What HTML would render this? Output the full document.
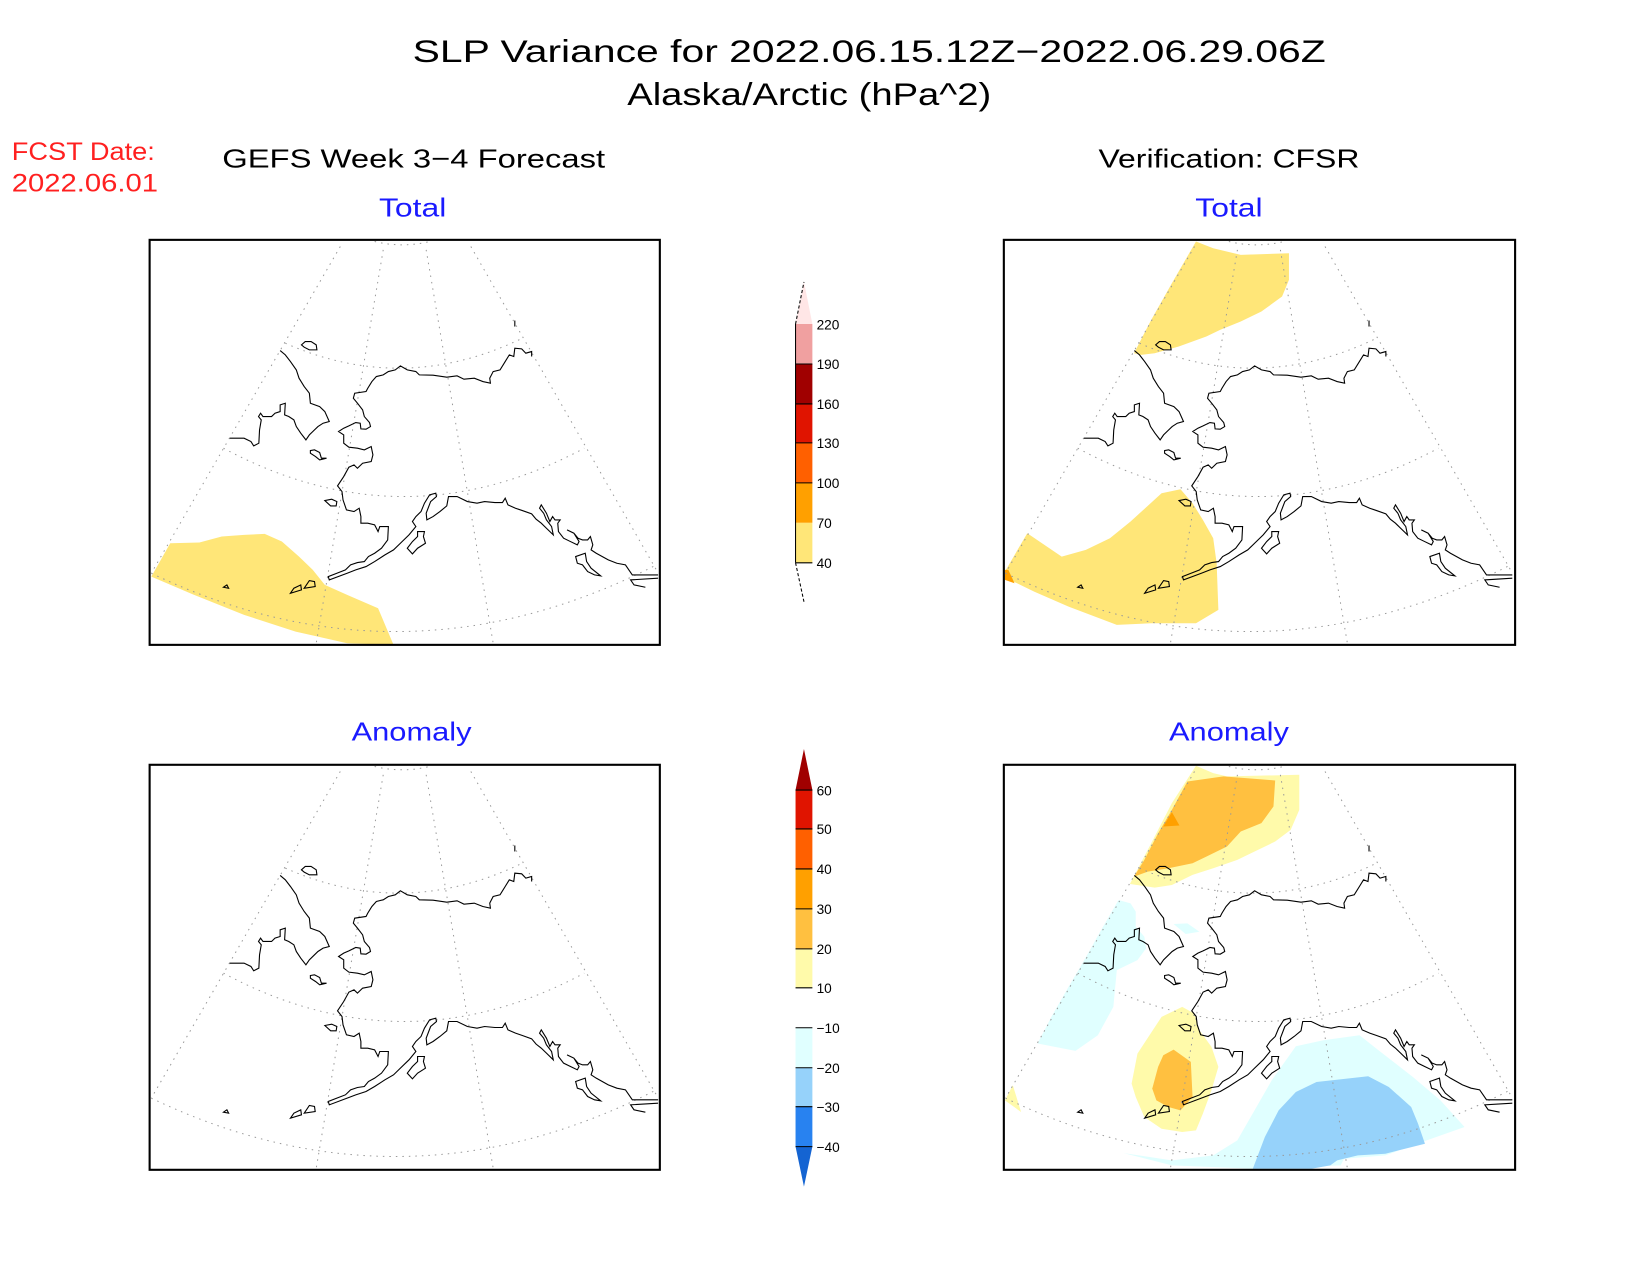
<!DOCTYPE html>
<html><head><meta charset="utf-8"><style>html,body{margin:0;padding:0;background:#fff}svg{display:block}</style></head>
<body>
<svg width="1650" height="1275" viewBox="0 0 1568 1212" xmlns="http://www.w3.org/2000/svg" font-family="Liberation Sans, sans-serif">
<defs>
<g id="base">
 <g fill="none" stroke="#999" stroke-width="1" stroke-dasharray="1.5,5" vector-effect="non-scaling-stroke">
  <path vector-effect="non-scaling-stroke" d="M680,35 Q760,55 840,35"/>
  <path vector-effect="non-scaling-stroke" d="M420,340 Q765,497 1110,325"/>
  <path vector-effect="non-scaling-stroke" d="M240,655 Q765,945 1290,655"/>
  <path vector-effect="non-scaling-stroke" d="M30,1030 Q765,1392 1500,1005"/>
  <path vector-effect="non-scaling-stroke" d="M580,50 L30,1030"/>
  <path vector-effect="non-scaling-stroke" d="M705,60 L510,1240"/>
  <path vector-effect="non-scaling-stroke" d="M830,60 L1025,1240"/>
  <path vector-effect="non-scaling-stroke" d="M960,50 L1500,1020"/>
 </g>
 <g fill="none" stroke="#000" stroke-width="1.1">
  <path vector-effect="non-scaling-stroke" d="M405,362 L420,375 L435,395 L452,420 L460,445 L475,470 L490,490 L493,520 L520,530 L535,545 L548,575 L530,580 L515,590 L505,600 L490,615 L480,630 L465,610 L452,590 L445,570 L430,560 L418,555 L420,520 L405,525 L405,545 L390,550 L380,560 L355,560 L348,550 L342,560 L350,570 L345,600 L343,640 L328,648 L320,635 L300,625 L258,625"/>
  <path vector-effect="non-scaling-stroke" d="M1137,380 L1137,365 L1120,370 L1108,357 L1088,355 L1085,380 L1072,375 L1060,395 L1045,420 L1025,425 L1015,445 L1017,460 L995,455 L970,445 L940,448 L920,438 L890,442 L850,436 L810,435 L800,425 L775,420 L755,408 L740,420 L720,425 L705,435 L685,440 L672,455 L660,475 L655,485 L622,490 L618,505 L630,520 L645,540 L650,560 L665,578 L668,590 L655,598 L640,597 L638,580 L625,578 L605,588 L590,595 L575,605 L590,615 L590,640 L605,652 L630,655 L650,660 L670,650 L675,675 L670,695 L645,700 L630,715 L620,705 L605,712 L590,740 L572,768 L585,785 L588,810 L598,840 L620,845 L635,835 L640,860 L640,880 L660,880 L680,885 L690,905 L695,890 L720,890 L718,930 L700,955 L680,970 L662,980 L650,995 L630,998 L610,1005 L595,1020 L570,1030 L545,1040 L548,1050 L600,1030 L625,1020 L655,1010 L680,995 L710,975 L735,960 L755,940 L780,915 L800,890 L790,875 L800,860 L815,845 L825,820 L840,795 L858,790 L860,800 L843,815 L830,850 L832,870 L850,860 L870,845 L890,828 L895,800 L920,800 L950,815 L978,820 L1000,815 L1030,818 L1052,818 L1060,805 L1068,825 L1090,835 L1110,842 L1137,852 L1150,868 L1165,880 L1180,895 L1200,915 L1195,890 L1180,870 L1172,850 L1160,835 L1165,825 L1180,850 L1190,875 L1198,860 L1205,870 L1220,870 L1213,880 L1215,905 L1230,925 L1250,935 L1270,945 L1275,935 L1260,910 L1240,900 L1260,910 L1272,925 L1285,930 L1300,930 L1308,920 L1315,945 L1310,960 L1325,970 L1360,990 L1385,1000 L1410,1005 L1420,1020 L1430,1035 L1505,1035"/>
  <path vector-effect="non-scaling-stroke" d="M1265,980 L1293,970 L1297,995 L1310,1015 L1338,1038 L1320,1035 L1300,1025 L1285,1005 L1270,1000 Z"/>
  <path vector-effect="non-scaling-stroke" d="M1505,1045 L1425,1050 L1435,1065 L1468,1072"/>
  <path vector-effect="non-scaling-stroke" d="M805,905 L825,905 L822,920 L828,940 L805,955 L790,972 L775,955 L790,935 L805,920 Z"/>
  <path vector-effect="non-scaling-stroke" d="M467,345 L478,335 L495,335 L510,345 L512,360 L490,360 L475,352 Z"/>
  <path vector-effect="non-scaling-stroke" d="M493,662 L505,660 L520,668 L525,685 L540,685 L520,690 L508,680 L493,670 Z"/>
  <path vector-effect="non-scaling-stroke" d="M535,812 L555,808 L570,815 L568,828 L552,828 Z"/>
  <path vector-effect="non-scaling-stroke" d="M435,1090 L445,1075 L465,1065 L467,1080 Z"/>
  <path vector-effect="non-scaling-stroke" d="M475,1075 L490,1052 L505,1055 L507,1070 Z"/>
  <path vector-effect="non-scaling-stroke" d="M240,1072 L250,1065 L255,1075 Z"/>
  <path vector-effect="non-scaling-stroke" d="M1088,272 L1088,290"/>
 </g>
</g>
</defs>

<!-- titles -->
<g font-size="30" fill="#000">
 <text x="392" y="59" textLength="868" lengthAdjust="spacingAndGlyphs">SLP Variance for 2022.06.15.12Z−2022.06.29.06Z</text>
 <text x="596" y="100" textLength="346" lengthAdjust="spacingAndGlyphs">Alaska/Arctic (hPa^2)</text>
</g>
<g font-size="25" fill="#000">
 <text x="211" y="159" textLength="364" lengthAdjust="spacingAndGlyphs">GEFS Week 3−4 Forecast</text>
 <text x="1044" y="159" textLength="248" lengthAdjust="spacingAndGlyphs">Verification: CFSR</text>
</g>
<g font-size="24" fill="#ff2020">
 <text x="11" y="152" textLength="136" lengthAdjust="spacingAndGlyphs">FCST Date:</text>
 <text x="11" y="182" textLength="139" lengthAdjust="spacingAndGlyphs">2022.06.01</text>
</g>
<g font-size="25" fill="#1a1aff">
 <text x="360" y="206" textLength="64" lengthAdjust="spacingAndGlyphs">Total</text>
 <text x="1136" y="206" textLength="64" lengthAdjust="spacingAndGlyphs">Total</text>
 <text x="334" y="704" textLength="114" lengthAdjust="spacingAndGlyphs">Anomaly</text>
 <text x="1111" y="704" textLength="114" lengthAdjust="spacingAndGlyphs">Anomaly</text>
</g>

<!-- top left -->
<g transform="translate(133.8,218.5) scale(0.3266,0.3169)">
 <path d="M30,1040 L85,940 L170,938 L235,920 L300,915 L360,912 L410,935 L460,980 L500,1020 L535,1065 L600,1095 L690,1135 L735,1245 L600,1240 L450,1205 L300,1155 L150,1093 Z" fill="#ffe678"/>
 <use href="#base"/>
</g>
<rect x="142" y="228" width="485" height="385" fill="none" stroke="#000" stroke-width="2"/>

<!-- top right -->
<g transform="translate(950.1,218.5) scale(0.3273,0.3169)">
 <path d="M390,370 L440,270 L500,160 L570,35 L620,55 L700,75 L840,70 L840,150 L820,200 L760,245 L700,275 L640,300 L600,320 L520,350 L450,370 L410,375 Z" fill="#ffe678"/>
 <path d="M15,1025 L80,910 L180,980 L250,960 L320,925 L380,875 L470,790 L525,778 L560,820 L590,870 L620,925 L630,1000 L635,1140 L570,1180 L440,1180 L340,1185 L200,1130 L100,1085 L40,1055 Z" fill="#ffe678"/>
 <path d="M15,1020 L25,1020 L43,1060 L15,1050 Z" fill="#ffa000"/>
</g>
<g transform="translate(945.8,218.5) scale(0.3266,0.3169)"><use href="#base"/></g>
<rect x="954" y="228" width="486" height="385" fill="none" stroke="#000" stroke-width="2"/>

<!-- bottom left -->
<g transform="translate(133.8,717.5) scale(0.3266,0.3169)"><use href="#base"/></g>
<rect x="142" y="727" width="485" height="385" fill="none" stroke="#000" stroke-width="2"/>

<!-- bottom right -->
<g transform="translate(950.1,722.2) scale(0.3273,0.3174)">
 <path d="M378,372 L440,250 L500,130 L570,18 L620,40 L660,50 L870,45 L870,150 L845,210 L800,245 L750,270 L690,300 L620,325 L560,345 L500,375 L450,383 Z" fill="#fffaaa"/>
 <path d="M390,350 L420,300 L460,220 L500,150 L545,65 L650,50 L800,62 L795,140 L760,190 L700,215 L660,260 L600,290 L560,310 L490,325 L430,335 Z" fill="#ffc040"/>
 <path d="M475,200 L500,157 L522,197 Z" fill="#ffa000"/>
 <path d="M110,850 L150,770 L200,680 L240,610 L300,500 L345,420 L380,430 L395,455 L395,500 L420,530 L425,565 L400,600 L340,630 L330,740 L285,825 L220,872 Z" fill="#e0ffff"/>
 <path d="M505,492 L545,490 L580,515 L540,522 Z" fill="#e0ffff"/>
 <path d="M383,970 L400,880 L470,770 L530,740 L565,760 L580,810 L615,860 L635,920 L615,990 L590,1060 L570,1110 L530,1115 L470,1105 L420,1070 L395,1010 Z" fill="#fffaaa"/>
 <path d="M443,985 L460,920 L475,885 L505,868 L555,905 L560,1010 L525,1050 L490,1040 L455,1020 Z" fill="#ffc040"/>
 <path d="M360,1178 L500,1200 L620,1185 L690,1140 L740,1050 L790,960 L860,858 L940,840 L1045,825 L1100,870 L1200,950 L1280,1020 L1350,1100 L1240,1140 L1120,1185 L1000,1195 L990,1215 L740,1225 L500,1215 Z" fill="#e0ffff"/>
 <path d="M735,1225 L770,1130 L810,1050 L860,995 L920,965 L1070,948 L1130,980 L1195,1040 L1215,1090 L1235,1150 L1120,1180 L1040,1185 L980,1200 L960,1215 L905,1225 Z" fill="#96d2fa"/>
 <path d="M15,1020 L38,975 L62,1055 Z" fill="#fffaaa"/>
</g>
<g transform="translate(945.8,717.5) scale(0.3266,0.3169)"><use href="#base"/></g>
<rect x="954" y="727" width="486" height="385" fill="none" stroke="#000" stroke-width="2"/>

<!-- top colorbar -->
<g stroke="none">
 <path d="M756,308 L764,268 L772,308 Z" fill="#ffe6e6"/>
 <rect x="756" y="308" width="16" height="38" fill="#f0a0a0"/>
 <rect x="756" y="346" width="16" height="38" fill="#a00000"/>
 <rect x="756" y="384" width="16" height="37" fill="#e01400"/>
 <rect x="756" y="421" width="16" height="38" fill="#ff6000"/>
 <rect x="756" y="459" width="16" height="38" fill="#ffa000"/>
 <rect x="756" y="497" width="16" height="38" fill="#ffe678"/>
</g>
<g stroke="#000" stroke-width="1" fill="none">
 <path d="M756,535 L764,572 M756,308 L764,268" stroke-dasharray="3,2"/>
 <path d="M756,346 H772 M756,384 H772 M756,421 H772 M756,459 H772 M756,535 H772"/>
 <path d="M756,308 V535"/>
</g>
<g font-size="13" fill="#000">
 <text x="776" y="313">220</text><text x="776" y="351">190</text><text x="776" y="389">160</text>
 <text x="776" y="426">130</text><text x="776" y="464">100</text><text x="776" y="502">70</text><text x="776" y="540">40</text>
</g>

<!-- bottom colorbar -->
<g stroke="none">
 <path d="M756,751 L764,712 L772,751 Z" fill="#a00000"/>
 <rect x="756" y="751" width="16" height="37" fill="#e01400"/>
 <rect x="756" y="788" width="16" height="38" fill="#ff6000"/>
 <rect x="756" y="826" width="16" height="38" fill="#ffa000"/>
 <rect x="756" y="864" width="16" height="38" fill="#ffc040"/>
 <rect x="756" y="902" width="16" height="37" fill="#fffaaa"/>
 <rect x="756" y="977" width="16" height="38" fill="#e0ffff"/>
 <rect x="756" y="1015" width="16" height="37" fill="#96d2fa"/>
 <rect x="756" y="1052" width="16" height="38" fill="#2882f0"/>
 <path d="M756,1090 L764,1128 L772,1090 Z" fill="#1464d2"/>
</g>
<g stroke="#000" stroke-width="1">
 <path d="M756,751 H772 M756,788 H772 M756,826 H772 M756,864 H772 M756,902 H772 M756,939 H772 M756,977 H772 M756,1015 H772 M756,1052 H772 M756,1090 H772"/>
</g>
<g font-size="13" fill="#000">
 <text x="776" y="756">60</text><text x="776" y="793">50</text><text x="776" y="831">40</text>
 <text x="776" y="869">30</text><text x="776" y="907">20</text><text x="776" y="944">10</text>
 <text x="776" y="982">−10</text><text x="776" y="1020">−20</text><text x="776" y="1057">−30</text><text x="776" y="1095">−40</text>
</g>
</svg>
</body></html>
